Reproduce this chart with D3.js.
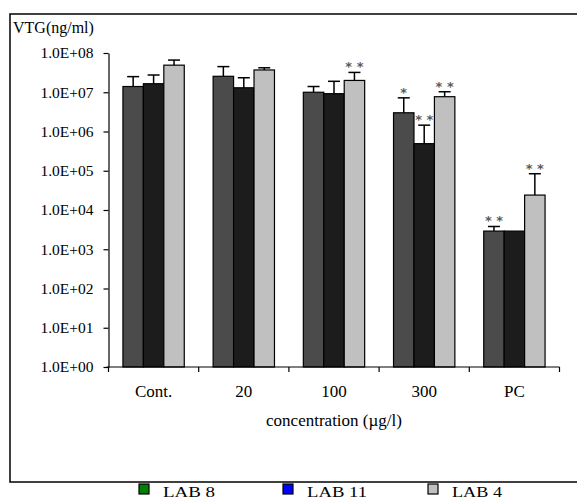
<!DOCTYPE html>
<html>
<head>
<meta charset="utf-8">
<script src="https://cdn.jsdelivr.net/npm/d3@7"></script>
<style>
  html, body { margin: 0; padding: 0; background: #fff; }
  svg { display: block; }
  text { font-family: "Liberation Serif", "Times New Roman", serif; fill: #000; }
</style>
</head>
<body>
<svg id="chart" width="577" height="501"></svg>
<script>
// ---- data ----
const categories = ["Cont.", "20", "100", "300", "PC"];
const seriesNames = ["LAB 8", "LAB 11", "LAB 4"];
const lab8  = [1.4e7, 2.55e7, 1.0e7, 3.0e6, 2.9e3];
const lab11 = [1.65e7, 1.3e7, 9.2e6, 4.9e5, 2.9e3];
const lab4  = [4.9e7, 3.7e7, 2.0e7, 7.7e6, 2.4e4];
const lab8ErrTop  = [2.5e7, 4.5e7, 1.4e7, 7.2e6, 3.8e3];
const lab11ErrTop = [2.75e7, 2.34e7, 1.9e7, 1.45e6, null];
const lab4ErrTop  = [6.6e7, 4.2e7, 3.2e7, 1.03e7, 8.4e4];
const lab8Sig  = ["", "", "", "*", "**"];
const lab11Sig = ["", "", "", "**", ""];
const lab4Sig  = ["", "", "**", "**", "**"];
const yTickValues = [1e0, 1e1, 1e2, 1e3, 1e4, 1e5, 1e6, 1e7, 1e8];
const yTickLabels = ["1.0E+00","1.0E+01","1.0E+02","1.0E+03","1.0E+04","1.0E+05","1.0E+06","1.0E+07","1.0E+08"];
const yTitle = "VTG(ng/ml)";
const xTitle = "concentration (\u00b5g/l)";

const barColors = ["#4b4b4b", "#1c1c1c", "#c0c0c0"];
const legendColors = ["#008000", "#0000ff", "#c0c0c0"];

const series = [
  { name: seriesNames[0], values: lab8, err: lab8ErrTop, sig: lab8Sig },
  { name: seriesNames[1], values: lab11, err: lab11ErrTop, sig: lab11Sig },
  { name: seriesNames[2], values: lab4, err: lab4ErrTop, sig: lab4Sig }
];

const svg = d3.select("#chart");

// outer frame (right edge runs off the picture)
svg.append("rect")
  .attr("x", 10).attr("y", 14)
  .attr("width", 620).attr("height", 468)
  .attr("fill", "#fff").attr("stroke", "#000").attr("stroke-width", 1.5);

const x0 = 108.5, x1 = 559.5, yTop = 53, yBot = 367;

const x = d3.scaleBand().domain(categories).range([x0, x1]).paddingInner(0).paddingOuter(0);
const xs = d3.scaleBand().domain(seriesNames)
  .range([x.bandwidth() * 0.16, x.bandwidth() * 0.84]).paddingInner(0).paddingOuter(0);
const y = d3.scaleLog().domain([1, 1e8]).range([yBot, yTop]);

// y title
svg.append("text").attr("x", 13).attr("y", 33)
  .style("font-size", "16px").text(yTitle);

// y axis
const yAxis = d3.axisLeft(y)
  .tickValues(yTickValues)
  .tickFormat((d, i) => yTickLabels[i])
  .tickSize(5).tickSizeOuter(0).tickPadding(10);
const gy = svg.append("g").attr("transform", `translate(${x0},0)`).call(yAxis);
gy.select(".domain").attr("stroke", "#000").attr("stroke-width", 1.2);
gy.selectAll(".tick line").attr("stroke", "#000").attr("stroke-width", 1.2);
gy.selectAll(".tick text")
  .style("font-family", "'Liberation Serif', serif")
  .style("font-size", "15.5px").attr("fill", "#000");

// bars
const groups = svg.append("g").selectAll("g.grp")
  .data(categories).join("g")
  .attr("class", "grp")
  .attr("transform", d => `translate(${x(d)},0)`);

series.forEach((s, si) => {
  groups.append("rect")
    .attr("x", xs(s.name))
    .attr("width", xs.bandwidth())
    .attr("y", (d, i) => y(s.values[i]))
    .attr("height", (d, i) => yBot - y(s.values[i]))
    .attr("fill", barColors[si])
    .attr("stroke", "#000").attr("stroke-width", 1.2);
});

// error bars
series.forEach((s, si) => {
  groups.each(function(d, i) {
    const e = s.err[i];
    if (e == null) return;
    const g = d3.select(this);
    const cx = xs(s.name) + xs.bandwidth() / 2;
    g.append("line")
      .attr("x1", cx).attr("x2", cx)
      .attr("y1", y(s.values[i])).attr("y2", y(e))
      .attr("stroke", "#000").attr("stroke-width", 1.5);
    g.append("line")
      .attr("x1", cx - 6).attr("x2", cx + 6)
      .attr("y1", y(e)).attr("y2", y(e))
      .attr("stroke", "#000").attr("stroke-width", 1.5);
  });
});

// significance marks
series.forEach((s, si) => {
  groups.each(function(d, i) {
    const m = s.sig[i];
    if (!m) return;
    const top = s.err[i] != null ? s.err[i] : s.values[i];
    const cx = xs(s.name) + xs.bandwidth() / 2;
    d3.select(this).append("text")
      .attr("x", cx).attr("y", y(top) - 1)
      .attr("text-anchor", "middle")
      .style("font-family", "'DejaVu Sans', sans-serif")
      .style("font-size", "13px")
      .style("font-weight", "bold")
      .style("fill", "#5a5a5a")
      .text(m.split("").join(" "));
  });
});

// x axis line and boundary ticks
svg.append("line")
  .attr("x1", x0 - 2).attr("x2", x1).attr("y1", yBot).attr("y2", yBot)
  .attr("stroke", "#000").attr("stroke-width", 1.2);
const boundaries = categories.map(c => x(c)).concat([x(categories[categories.length - 1]) + x.bandwidth()]);
svg.append("g").selectAll("line").data(boundaries).join("line")
  .attr("x1", d => d).attr("x2", d => d)
  .attr("y1", yBot).attr("y2", yBot + 5)
  .attr("stroke", "#000").attr("stroke-width", 1.2);

// category labels
svg.append("g").selectAll("text").data(categories).join("text")
  .attr("x", d => x(d) + x.bandwidth() / 2)
  .attr("y", 397)
  .attr("text-anchor", "middle")
  .style("font-size", "17px")
  .text(d => d);

// x title
svg.append("text")
  .attr("x", (x0 + x1) / 2).attr("y", 426)
  .attr("text-anchor", "middle")
  .style("font-size", "17px")
  .text(xTitle);

// legend
const legendX = [139, 283, 428];
const legendTextW = [52, 60, 50];
const lg = svg.append("g").selectAll("g").data(seriesNames).join("g")
  .attr("transform", (d, i) => `translate(${legendX[i]},484)`);
lg.append("rect")
  .attr("width", 10).attr("height", 10)
  .attr("fill", (d, i) => legendColors[i])
  .attr("stroke", "#000").attr("stroke-width", 1.2);
lg.append("text")
  .attr("x", 24).attr("y", 13)
  .attr("textLength", (d, i) => legendTextW[i])
  .attr("lengthAdjust", "spacingAndGlyphs")
  .style("font-size", "15px")
  .text(d => d);
</script>
</body>
</html>
